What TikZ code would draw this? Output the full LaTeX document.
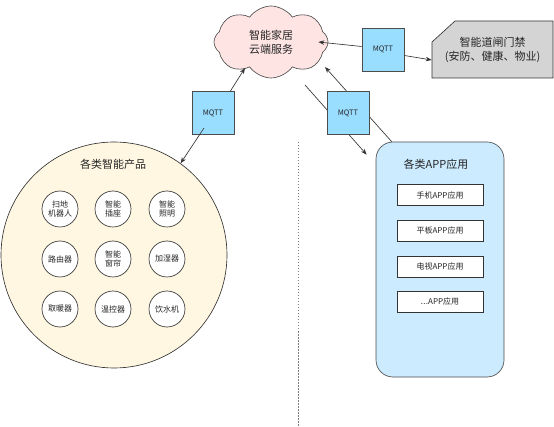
\documentclass[tikz,border=0pt]{standalone}
\usepackage{fontspec}
\setmainfont{Noto Sans CJK SC}
\usetikzlibrary{shapes.symbols,arrows.meta}
\definecolor{cloudpink}{HTML}{FFE4E4}
\definecolor{mqttblue}{HTML}{99DDFF}
\definecolor{prodcream}{HTML}{FFF7E1}
\definecolor{appblue}{HTML}{CCEBFF}
\definecolor{gategray}{HTML}{D4D4D4}
\begin{document}
\begin{tikzpicture}[x=1pt,y=-1pt,line width=.65pt,text=black!85,
  mqtt/.style={draw=black!70,fill=mqttblue,minimum width=42pt,minimum height=43pt,inner sep=0pt,font=\fontsize{7.5}{9}\selectfont},
  dev/.style={circle,draw=black!80,fill=white,minimum size=36pt,inner sep=0pt,align=center,font=\fontsize{8}{9.5}\selectfont},
  appbox/.style={draw=black!80,fill=white,minimum width=86pt,minimum height=21pt,inner sep=0pt,font=\fontsize{8}{9}\selectfont},
  arr/.style={draw=black!80,-{Stealth[length=6pt,width=4.5pt]}},
  big/.style={font=\fontsize{11}{14}\selectfont}]
\useasboundingbox (0,0) rectangle (554,427);
% cloud, products, apps
\node[cloud,cloud puffs=8,cloud puff arc=110,aspect=1.6,draw=black!70,fill=cloudpink,minimum width=114pt,minimum height=72pt,inner sep=0pt,align=center,big] (cloud) at (271,42) {智能家居\\云端服务};
\node[circle,draw=black!80,fill=prodcream,minimum size=226pt,inner sep=0pt] (prod) at (114,255) {};
\node[big] (prodt) at (113,164) {各类智能产品};
\foreach \x/\y/\t [count=\i] in {60/209/扫地\\机器人,113/209/智能\\插座,167/209/智能\\照明,60/259/路由器,113/259/智能\\窗帘,167/259/加湿器,60/309/取暖器,113/309/温控器,167/309/饮水机}{\node[dev] (dev\i) at (\x,\y) {\t};}
\node[draw=black!70,fill=appblue,rounded corners=17pt,minimum width=128pt,minimum height=235pt] (apps) at (440,259.5) {};
\node[big] (appst) at (436,164) {各类APP应用};
\foreach \y/\t [count=\i] in {195/手机APP应用,230.5/平板APP应用,266.5/电视APP应用,301.5/{.\kern.3pt.\kern.3pt.APP应用}}{\node[appbox] (app\i) at (440,\y) {\t};}
% gate
\draw[draw=black!80,fill=gategray] (455,21)--(553,21)--(553,78)--(432,78)--(432,42)--cycle;
\node[minimum width=121pt,minimum height=57pt,inner sep=0pt,align=center,big] (gate) at (492.5,49.5) {智能道闸门禁\\(安防、健康、物业)};
\draw[gray,dash pattern=on 1.5pt off 1.5pt] (298,142)--(298,426);
% mqtt links
\draw[arr] ([shift={(34,43)}]cloud.center) -- ([shift={(-9,13)}]apps.north west);
\draw[arr] ([xshift=16pt]apps.north west) -- ([shift={(54,25)}]cloud.center);
\node[mqtt] (mqR) at (348,113) {MQTT};
\node[mqtt] (mqL) at (213,113) {MQTT};
\draw[arr] ([xshift=-4pt]mqL.north east) -- ([shift={(-26,26)}]cloud.center);
\draw[arr] ([shift={(-9,15)}]mqL.center) -- (prod.54);
\node[mqtt] (mqT) at (383,49.5) {MQTT};
\draw[arr] ([yshift=3pt]mqT.west) -- ([xshift=-10pt]cloud.east);
\draw[arr] ([yshift=-6pt]mqT.east) -- ([yshift=-10.5pt]gate.west);
\end{tikzpicture}
\end{document}
